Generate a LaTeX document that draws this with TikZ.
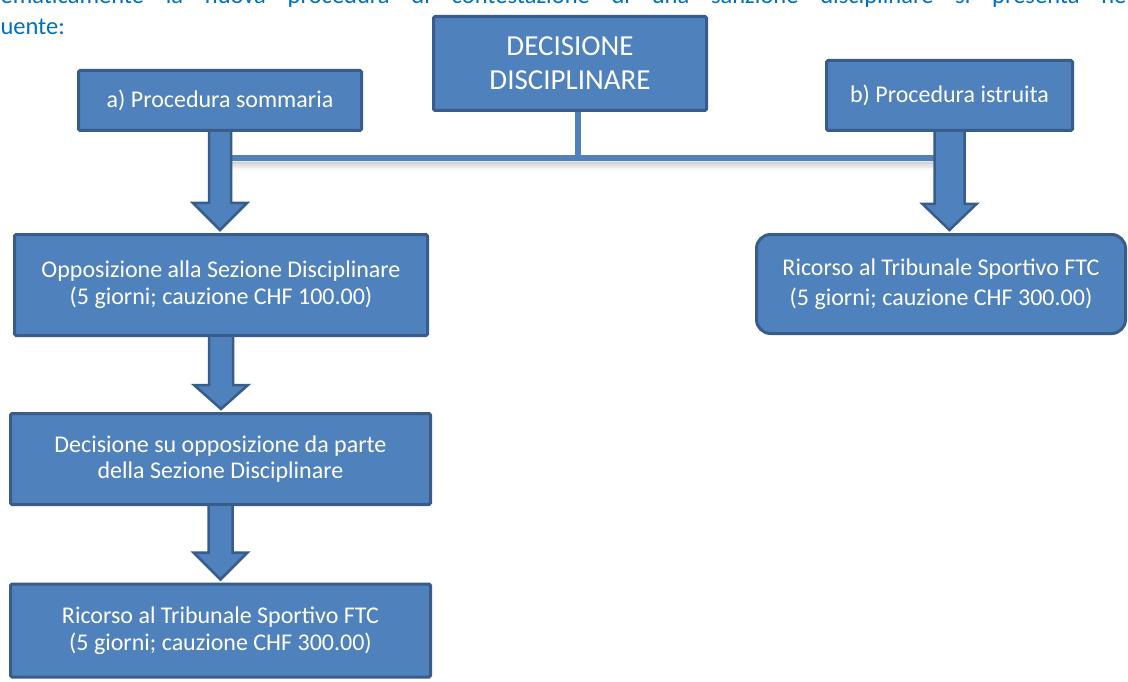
\documentclass[tikz,border=0pt]{standalone}
\usepackage{fontspec}
\setmainfont{Carlito}
\usetikzlibrary{calc}
\definecolor{boxfill}{HTML}{4F81BD}
\definecolor{boxline}{HTML}{385D8A}
\definecolor{txtblue}{HTML}{0070C0}
\tikzset{
  box/.style={draw=boxline, fill=boxfill, line width=3pt, text=white,
    font=\fontsize{24}{30}\selectfont, align=center, inner sep=0pt, rounded corners=1.5pt},
  blk/.style={draw=boxline, fill=boxfill, line width=2.5pt, line join=miter},
  conn/.style={draw=boxfill, line width=6pt},
  intro/.style={text=txtblue, font=\fontsize{24.5}{30}\selectfont, anchor=base west, inner sep=0pt}
}
\newcommand\blockarrow[5]{%
  \path[blk] let \p1=(#1.south), \p2=(#2.north) in
    (\x1-#3pt,\y1) -- (\x1-#3pt,\y2+#5pt) -- (\x1-#4pt,\y2+#5pt) -- (\x1,\y2+3pt)
    -- (\x1+#4pt,\y2+#5pt) -- (\x1+#3pt,\y2+#5pt) -- (\x1+#3pt,\y1);}
\begin{document}
\begin{tikzpicture}[x=1pt,y=-1pt]
\useasboundingbox (0,0) rectangle (1128,682);
\clip (0,0) rectangle (1128,682);
\fill[white] (0,0) rectangle (1128,682);
% intro text (justified line, clipped at the page edges)
\node[intro] (l1) at (-34,3.5) {\makebox[1166pt][s]{Schematicamente la nuova procedura di contestazione di una sanzione disciplinare si presenta nel}};
\node[intro] (l2) at (-33,35) {seguente:};
% boxes
\node[box, minimum width=273pt, minimum height=94pt, font=\fontsize{29}{34}\selectfont] (dec) at (570,63.5) {DECISIONE\\DISCIPLINARE};
\node[box, minimum width=283pt, minimum height=60pt] (a) at (220,100.5) {\raisebox{-2pt}{a) Procedura sommaria}};
\node[box, minimum width=246pt, minimum height=70pt] (b) at (949.5,95.5) {\raisebox{-1pt}{b) Procedura istruita}};
\node[box, minimum width=413pt, minimum height=101pt] (opp) at (221,285) {\raisebox{-2pt}{\shortstack{Opposizione alla Sezione Disciplinare\\[3pt](5 giorni; cauzione CHF 100.00)}}};
\node[box, minimum width=369pt, minimum height=99pt, rounded corners=14pt] (rr) at (941,284) {Ricorso al Tribunale Sportivo FTC\\(5 giorni; cauzione CHF 300.00)};
\node[box, minimum width=420pt, minimum height=91pt] (dsd) at (220.5,459) {\raisebox{-2pt}{\shortstack{Decisione su opposizione da parte\\[3pt]della Sezione Disciplinare}}};
\node[box, minimum width=420pt, minimum height=93pt] (rl) at (220.5,630.5) {\raisebox{-3pt}{\shortstack{Ricorso al Tribunale Sportivo FTC\\[3pt](5 giorni; cauzione CHF 300.00)}}};
% connector lines with shadow
\coordinate (hl) at (222,158);
\coordinate (hr) at (948,158);
\coordinate (vt) at ($(dec.south)+(8,0)$);
\foreach \d/\o in {4/0.10,6/0.07,8/0.05,10/0.03}{
  \draw[black, opacity=\o, line width=4pt] ($(hl)+(0,\d)$) -- ($(hr)+(0,\d)$);
}
\draw[conn] (vt) -- (vt |- hl);
\draw[conn] (hl) -- (hr);
% block arrows
\blockarrow{a}{opp}{11}{27}{30}
\blockarrow{b}{rr}{15}{27}{29}
\blockarrow{opp}{dsd}{12}{27}{27}
\blockarrow{dsd}{rl}{12}{27}{30}
\end{tikzpicture}
\end{document}
